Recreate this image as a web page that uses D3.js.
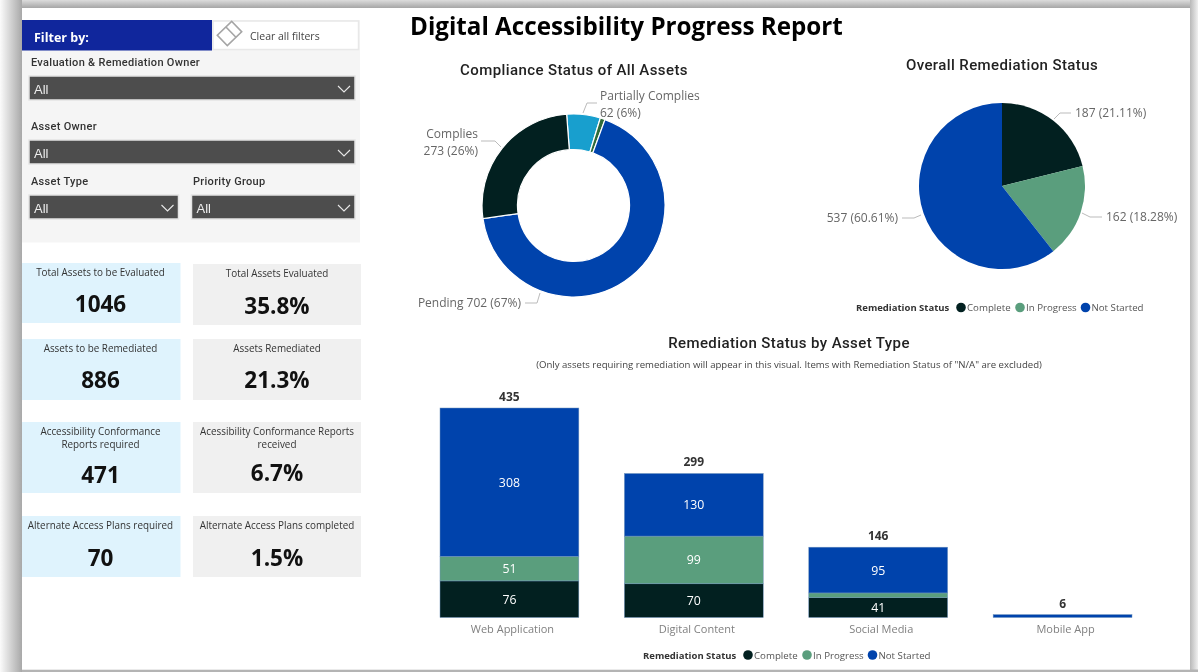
<!DOCTYPE html>
<html>
<head>
<meta charset="utf-8">
<title>Digital Accessibility Progress Report</title>
<script src="https://cdn.jsdelivr.net/npm/d3@7"></script>
<style>
  html, body { margin: 0; padding: 0; background: #fff; overflow: hidden; }
  svg { display: block; filter: blur(0.35px); }
  text { font-family: "Open Sans", sans-serif; }
  .din { font-family: Roboto, sans-serif; }
  .axis path, .axis line { display: none; }
</style>
</head>
<body>
<svg width="1198" height="672"></svg>
<script>
// DATA

var complianceNames = ["Partially Complies", "Other", "Pending", "Complies"];
var complianceValues = [62, 9, 702, 273];
var complianceColors = ["#189fce", "#2f6b3a", "#0043ac", "#022020"];

var statusNames = ["Complete", "In Progress", "Not Started"];
var statusValues = [187, 162, 537];
var statusLabels = ["187 (21.11%)", "162 (18.28%)", "537 (60.61%)"];
var statusColors = ["#022020", "#5a9e7d", "#0043ac"];

var assetTypes = ["Web Application", "Digital Content", "Social Media", "Mobile App"];
var completeByType = [76, 70, 41, 0];
var inProgressByType = [51, 99, 10, 0];
var notStartedByType = [308, 130, 95, 6];
var totalsByType = [435, 299, 146, 6];

var kpiLeftTitles = [["Total Assets to be Evaluated"], ["Assets to be Remediated"], ["Accessibility Conformance", "Reports required"], ["Alternate Access Plans required"]];
var kpiLeftValues = ["1046", "886", "471", "70"];
var kpiRightTitles = [["Total Assets Evaluated"], ["Assets Remediated"], ["Acessibility Conformance Reports", "received"], ["Alternate Access Plans completed"]];
var kpiRightValues = ["35.8%", "21.3%", "6.7%", "1.5%"];

// SETUP

var svg = d3.select("svg");
var defs = svg.append("defs");

function shade(id, x1, y1, x2, y2, from, to) {
  var g = defs.append("linearGradient").attr("id", id)
    .attr("x1", x1).attr("y1", y1).attr("x2", x2).attr("y2", y2);
  g.append("stop").attr("offset", 0).attr("stop-color", from);
  g.append("stop").attr("offset", 1).attr("stop-color", to);
}
shade("shLeft", 0, 0, 1, 0, "#fbfbfb", "#a8a8a8");
shade("shTop", 0, 0, 0, 1, "#dcdcdc", "#a6a6a6");
shade("shRight", 0, 0, 1, 0, "#b8b8b8", "#f0f0f0");

// page shadow
svg.append("rect").attr("x", 0).attr("y", 0).attr("width", 1198).attr("height", 672).attr("fill", "#f4f4f4");
svg.append("rect").attr("x", 0).attr("y", 0).attr("width", 22).attr("height", 672).attr("fill", "url(#shLeft)");
svg.append("rect").attr("x", 22).attr("y", 0).attr("width", 1176).attr("height", 8).attr("fill", "url(#shTop)");
svg.append("rect").attr("x", 1190).attr("y", 0).attr("width", 8).attr("height", 672).attr("fill", "url(#shRight)");
svg.append("rect").attr("x", 22).attr("y", 669.5).attr("width", 1176).attr("height", 2.5).attr("fill", "#b4b4b4");
svg.append("rect").attr("x", 22).attr("y", 8).attr("width", 1168).attr("height", 661.5).attr("fill", "#fff");

// FILTER PANEL

var panel = svg.append("g");
panel.append("rect").attr("x", 22).attr("y", 20).attr("width", 338).attr("height", 222.5).attr("fill", "#f5f5f5");
panel.append("rect").attr("x", 22).attr("y", 20).attr("width", 190).attr("height", 30.5).attr("fill", "#10269c");
panel.append("text").attr("x", 34).attr("y", 42).attr("font-size", 12.5).attr("font-weight", 700).attr("fill", "#fff").text("Filter by:");
panel.append("rect").attr("x", 213).attr("y", 21).attr("width", 145.5).attr("height", 28.5).attr("fill", "#fff").attr("stroke", "#e8e8e8").attr("stroke-width", 1.5);
panel.append("g").attr("transform", "translate(229.5,33.5) rotate(-44)").call(function (e) {
  e.append("rect").attr("x", -10).attr("y", -7.2).attr("width", 20).attr("height", 14.4).attr("fill", "none").attr("stroke", "#a5a5a5").attr("stroke-width", 1.6);
  e.append("line").attr("x1", 2).attr("x2", 2).attr("y1", -7.2).attr("y2", 7.2).attr("stroke", "#a5a5a5").attr("stroke-width", 1.6);
});
panel.append("text").attr("x", 250).attr("y", 40).attr("font-size", 10.5).attr("fill", "#444").text("Clear all filters");

var slicerNames = ["Evaluation & Remediation Owner", "Asset Owner", "Asset Type", "Priority Group"];
var slicerBoxes = [[29, 76, 326, 24, 31, 66], [29, 140, 326, 24, 31, 130], [29, 195, 149.5, 24, 31, 185], [191.5, 195, 163.5, 24, 193, 185]];

slicerBoxes.forEach(function (b, i) {
  panel.append("text").attr("class", "din").attr("x", b[4]).attr("y", b[5]).attr("font-size", 11).attr("font-weight", 500).attr("letter-spacing", 0.3).attr("fill", "#333").text(slicerNames[i]);
  panel.append("rect").attr("x", b[0]).attr("y", b[1]).attr("width", b[2]).attr("height", b[3]).attr("fill", "#4d4d4d").attr("stroke", "#e4e4e4").attr("stroke-width", 1.5);
  panel.append("text").attr("x", b[0] + 5).attr("y", b[1] + 18).style("font-family", "Liberation Sans").attr("font-size", 13).attr("fill", "#eee").text("All");
  var cx = b[0] + b[2] - 11;
  panel.append("path").attr("d", d3.line()([[cx - 6, b[1] + 10], [cx, b[1] + 16], [cx + 6, b[1] + 10]])).attr("fill", "none").attr("stroke", "#e8e8e8").attr("stroke-width", 1.1);
});

// KPI CARDS

var leftCardBoxes = [[263, 60], [339, 61], [422, 71], [516, 61]];
var rightCardBoxes = [[264, 61], [339, 61], [422, 71], [516, 61]];
var leftValueY = [312, 388, 483, 566];
var rightValueY = [314, 388, 481, 566];

function card(x, w, fill, box, titles, value, valueY, cx) {
  var c = svg.append("g");
  c.append("rect").attr("x", x).attr("y", box[0]).attr("width", w).attr("height", box[1]).attr("fill", fill);
  titles.forEach(function (t, i) {
    c.append("text").attr("x", cx).attr("y", box[0] + 12.5 + i * 13).attr("text-anchor", "middle")
      .attr("font-size", 9.9).attr("fill", "#333").text(t);
  });
  c.append("text").attr("x", cx).attr("y", valueY).attr("text-anchor", "middle")
    .attr("font-size", 22.5).attr("font-weight", 700).attr("fill", "#111").text(value);
}
kpiLeftValues.forEach(function (v, i) {
  card(22, 158.5, "#dff3fd", leftCardBoxes[i], kpiLeftTitles[i], v, leftValueY[i], 100.5);
});
kpiRightValues.forEach(function (v, i) {
  card(193, 168, "#f0f0f0", rightCardBoxes[i], kpiRightTitles[i], v, rightValueY[i], 277);
});

// HEADINGS

svg.append("text").attr("x", 410).attr("y", 35).attr("font-size", 24.2).attr("font-weight", 700).attr("fill", "#000").text("Digital Accessibility Progress Report");

function heading(x, y, t) {
  svg.append("text").attr("class", "din").attr("x", x).attr("y", y).attr("text-anchor", "middle")
    .attr("font-size", 15).attr("font-weight", 500).attr("letter-spacing", 0.4).attr("fill", "#222").text(t);
}
heading(574, 75, "Compliance Status of All Assets");
heading(1002, 70, "Overall Remediation Status");
heading(789, 348, "Remediation Status by Asset Type");
svg.append("text").attr("x", 789).attr("y", 368).attr("text-anchor", "middle").attr("font-size", 9.6).attr("fill", "#444")
  .text('(Only assets requiring remediation will appear in this visual. Items with Remediation Status of "N/A" are excluded)');

// DONUT

var donut = svg.append("g").attr("transform", "translate(573.5,205.5)");
var donutStart = -4.3 * Math.PI / 180;
var donutPie = d3.pie().sort(null).startAngle(donutStart).endAngle(donutStart + 2 * Math.PI);
var donutArc = d3.arc().innerRadius(56).outerRadius(91.5);
donut.selectAll("path").data(donutPie(complianceValues)).enter().append("path")
  .attr("d", donutArc)
  .attr("fill", function (d, i) { return complianceColors[i]; })
  .attr("stroke", "#fff").attr("stroke-width", 1.2);

function leader(pts) {
  svg.append("path").attr("d", d3.line()(pts)).attr("fill", "none").attr("stroke", "#bbb").attr("stroke-width", 1);
}
function callout(x, y, anchor, t) {
  svg.append("text").attr("x", x).attr("y", y).attr("text-anchor", anchor).attr("font-size", 12).attr("fill", "#666").text(t);
}
callout(600, 100, "start", complianceNames[0]);
callout(600, 117, "start", complianceValues[0] + " (6%)");
leader([[583, 113], [587, 103], [597, 103]]);
callout(478, 138, "end", complianceNames[3]);
callout(478, 155, "end", complianceValues[3] + " (26%)");
leader([[481, 141], [495, 141], [501, 147]]);
callout(521, 307, "end", complianceNames[2] + " " + complianceValues[2] + " (67%)");
leader([[525, 303], [537, 303], [540, 293]]);

// PIE

var pieG = svg.append("g").attr("transform", "translate(1002,186)");
var statusPie = d3.pie().sort(null);
var statusArc = d3.arc().innerRadius(0).outerRadius(83);
pieG.selectAll("path").data(statusPie(statusValues)).enter().append("path")
  .attr("d", statusArc)
  .attr("fill", function (d, i) { return statusColors[i]; });

callout(1075, 117, "start", statusLabels[0]);
leader([[1054, 119], [1060, 113], [1071, 113]]);
callout(1106, 221, "start", statusLabels[1]);
leader([[1082, 213], [1090, 217], [1102, 217]]);
callout(898, 222, "end", statusLabels[2]);
leader([[902, 218], [914, 218], [921, 215]]);

function legend(x, y) {
  var gap = [105, 164, 229.5];
  var l = svg.append("g").attr("transform", "translate(" + x + "," + y + ")");
  l.append("text").attr("y", 3.5).attr("font-size", 9.5).attr("font-weight", 700).attr("fill", "#333").text("Remediation Status");
  statusNames.forEach(function (s, i) {
    l.append("circle").attr("cx", gap[i]).attr("r", 4.8).attr("fill", statusColors[i]);
    l.append("text").attr("x", gap[i] + 6).attr("y", 3.5).attr("font-size", 9.7).attr("fill", "#555").text(s);
  });
}
legend(856, 307.5);
legend(643, 655);

// STACKED BARS

var x = d3.scaleBand().domain(assetTypes).range([440, 1132]).paddingInner(0.247);
var y = d3.scaleLinear().domain([0, 435]).range([617.5, 408]);

var rows = assetTypes.map(function (a, i) {
  return { name: a, 0: completeByType[i], 1: inProgressByType[i], 2: notStartedByType[i] };
});
var layers = d3.stack().keys([0, 1, 2])(rows);

var bars = svg.append("g");
layers.forEach(function (layer, k) {
  bars.selectAll(".bar" + k).data(layer).enter().append("rect")
    .attr("class", "bar" + k)
    .attr("x", function (d) { return x(d.data.name); })
    .attr("y", function (d) { return y(d[1]); })
    .attr("width", x.bandwidth())
    .attr("height", function (d) { return y(d[0]) - y(d[1]); })
    .attr("fill", statusColors[k])
    .attr("stroke", "#6f93bd").attr("stroke-width", 0.5);

  // the thin segments carry no label in the reference
  bars.selectAll(".lab" + k).data(layer.filter(function (d) { return d[1] - d[0] >= 20; })).enter().append("text")
    .attr("class", "lab" + k)
    .attr("x", function (d) { return x(d.data.name) + x.bandwidth() / 2; })
    .attr("y", function (d) { return (y(d[0]) + y(d[1])) / 2 + 4.5; })
    .attr("text-anchor", "middle").attr("font-size", 12.3).attr("fill", "#fff")
    .text(function (d) { return d[1] - d[0]; });
});

svg.selectAll(".total").data(totalsByType).enter().append("text")
  .attr("class", "total")
  .attr("x", function (d, i) { return x(assetTypes[i]) + x.bandwidth() / 2; })
  .attr("y", function (d) { return y(d) - 7; })
  .attr("text-anchor", "middle").attr("font-size", 12).attr("font-weight", 700).attr("fill", "#333")
  .text(function (d) { return d; });

svg.append("g").attr("class", "axis")
  .attr("transform", "translate(3,617.5)")
  .call(d3.axisBottom(x).tickSize(0).tickPadding(8))
  .selectAll("text")
    .style("font-family", '"Open Sans", sans-serif')
    .style("font-size", "11px")
    .style("fill", "#808080");
</script>
</body>
</html>
